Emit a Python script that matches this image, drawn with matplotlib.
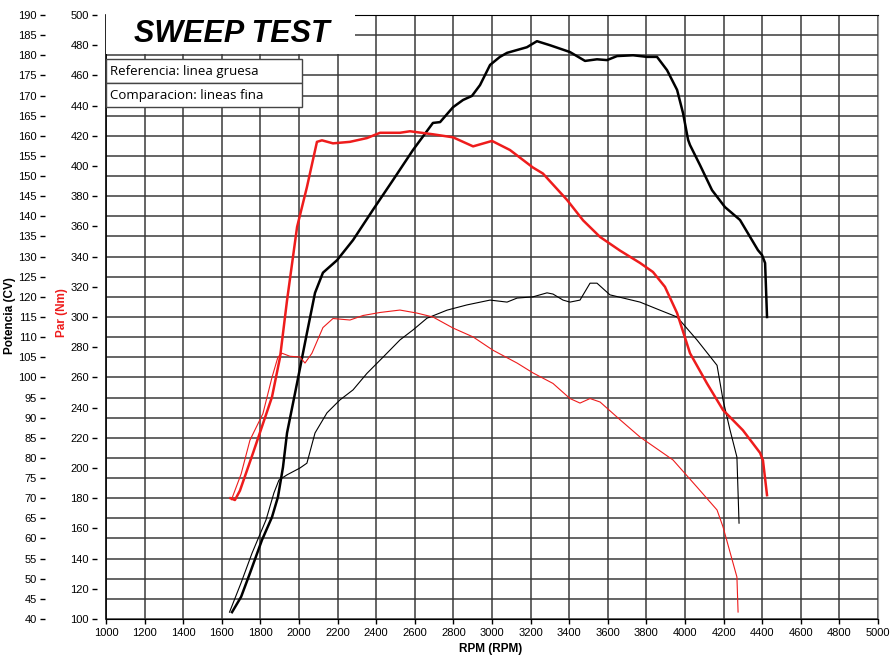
import matplotlib
matplotlib.use("Agg")
import matplotlib.pyplot as plt
from matplotlib.patches import Rectangle
from matplotlib.lines import Line2D

# ---------------- data ----------------
rpm_ticks = list(range(1000, 5001, 200))
power_ticks = list(range(40, 191, 5))
torque_ticks = list(range(100, 501, 20))

# Reference power (thick black), CV
ref_pow_rpm = [1653, 1700, 1746, 1808, 1860, 1891, 1917, 1938, 1990, 2041, 2083, 2124, 2197,
               2280, 2383, 2487, 2591, 2694, 2731, 2798, 2850, 2896, 2938, 2990, 3041, 3078,
               3181, 3233, 3300, 3404, 3482, 3544, 3596, 3648, 3731, 3803, 3855, 3907, 3959,
               3990, 4016, 4026, 4078, 4140, 4207, 4285, 4347, 4378, 4399, 4415, 4425]
ref_pow = [41.7, 45.5, 51.4, 59.6, 65.3, 70.3, 77.7, 86.2, 98.6, 111.0, 121.0, 126.0, 129.1,
           134.1, 141.6, 149.0, 156.5, 163.2, 163.4, 167.1, 168.9, 169.9, 172.6, 177.6, 179.6, 180.6,
           182.0, 183.5, 182.5, 180.8, 178.6, 179.0, 178.8, 179.8, 180.0, 179.6, 179.6, 176.3, 171.4,
           165.6, 159.0, 157.7, 152.7, 146.5, 142.3, 139.1, 134.1, 131.6, 130.4, 128.4, 115.0]

# Reference torque (thick red), Nm
ref_tq_rpm = [1645, 1668, 1694, 1762, 1860, 1902, 1938, 1990, 2041, 2093, 2119, 2176, 2264,
              2352, 2420, 2523, 2575, 2694, 2798, 2902, 3000, 3093, 3212, 3264, 3389, 3472,
              3560, 3663, 3767, 3834, 3896, 3959, 4026, 4114, 4197, 4300, 4389, 4404, 4425]
ref_tq = [180, 178.8, 185, 210, 247, 273.5, 311, 359.6, 386, 416, 417, 415, 416,
          418.5, 422, 422, 423, 421, 419, 413, 416.6, 410.6, 399, 395, 377.5, 364,
          353, 344, 335.8, 329.8, 320, 302.6, 276, 256, 238.4, 225, 210, 205, 182]

# Comparison torque (thin red), Nm
cmp_tq_rpm = [1650, 1700, 1746, 1813, 1860, 1891, 1912, 1953, 2005, 2031, 2067, 2124, 2176,
              2264, 2332, 2420, 2523, 2611, 2694, 2798, 2902, 3005, 3130, 3212, 3316, 3404,
              3456, 3508, 3560, 3663, 3767, 3938, 4062, 4166, 4197, 4249, 4269, 4275]
cmp_tq = [179, 196, 218.5, 236, 260, 273.5, 276, 274, 273.5, 269.5, 276, 293, 299,
          298, 301, 303, 304.6, 302.6, 300, 292.7, 286.8, 278, 269.5, 263, 256, 246,
          243, 246, 243.7, 232, 220.5, 205.3, 187.4, 172.2, 161, 137, 127.8, 104.6]

# Comparison power (thin black), CV
cmp_pow_rpm = [1640, 1700, 1757, 1829, 1870, 1896, 1938, 2005, 2041, 2083, 2145, 2212, 2280,
               2352, 2435, 2523, 2591, 2663, 2767, 2870, 2990, 3078, 3130, 3212, 3285, 3316,
               3368, 3404, 3456, 3508, 3544, 3611, 3767, 3870, 3959, 4062, 4166, 4197, 4233,
               4269, 4280]
cmp_pow = [41.7, 49, 56.4, 64.6, 71.3, 74.5, 75.8, 77.5, 78.7, 86.2, 91.2, 94.4, 96.9,
           101, 105, 109.3, 111.8, 114.7, 116.7, 118, 119.2, 118.7, 119.7, 120, 121, 120.7,
           119.2, 118.7, 119.2, 123.4, 123.4, 120.5, 118.7, 116.7, 115, 109.3, 103, 94.4, 87,
           80.2, 63.8]

RED = "#ee1c1c"

plt.rcParams['font.family'] = ['Liberation Sans', 'DejaVu Sans']

fig = plt.figure(figsize=(8.92, 6.62), dpi=100)
W, H = 892, 662
PX = 72 / 100  # points per pixel
ax = fig.add_axes([106 / W, 1 - 619 / H, (878 - 106) / W, (619 - 15) / H])
ax2 = ax.twinx()

# power axes (bottom layer)
ax.set_xlim(1000, 5000)
ax.set_ylim(40, 190)
ax.set_xticks(rpm_ticks)
ax.set_yticks(power_ticks)
ax.grid(True, color="#3a3a3a", lw=1.1)
ax.set_axisbelow(True)
ax.plot(ref_pow_rpm, ref_pow, color="black", lw=1.8, zorder=3)
ax.plot(cmp_pow_rpm, cmp_pow, color="black", lw=0.8, zorder=3)

# torque axes (top layer)
ax2.set_ylim(100, 500)
ax2.set_yticks(torque_ticks)
ax2.plot(ref_tq_rpm, ref_tq, color=RED, lw=1.8)
ax2.plot(cmp_tq_rpm, cmp_tq, color=RED, lw=0.8)

# tick placement
ax2.yaxis.tick_left()
ax2.spines['left'].set_position(('outward', 9 * PX))
ax2.spines['left'].set_visible(False)
ax2.spines['right'].set_visible(False)
ax2.spines['top'].set_visible(False)
ax2.spines['bottom'].set_visible(False)
ax2.tick_params(axis='y', length=5 * PX, width=1, pad=3 * PX, labelsize=8)

ax.spines['left'].set_position(('outward', 61 * PX))
ax.spines['left'].set_visible(False)
ax.spines['right'].set_color("#999999")
ax.spines['top'].set_color("black")
ax.spines['bottom'].set_color("black")
ax.tick_params(axis='y', length=5 * PX, width=1, pad=3 * PX, labelsize=8)
ax.tick_params(axis='x', length=5 * PX, width=1, pad=4 * PX, labelsize=8)
for t in ax.get_xticklabels():
    t.set_fontstretch('condensed')

# left frame line
fig.add_artist(Line2D([106 / W, 106 / W], [1 - 619 / H, 1 - 15 / H], color="black", lw=1.2))

# axis labels
fig.text(10 / W, 1 - 316 / H, "Potencia (CV)", rotation=90, ha='center', va='center',
         fontsize=8.5, fontweight='bold')
fig.text(62 / W, 1 - 313 / H, "Par (Nm)", rotation=90, ha='center', va='center',
         fontsize=8.5, fontweight='bold', color=RED)
fig.text(491 / W, 1 - 649 / H, "RPM (RPM)", ha='center', va='center',
         fontsize=8.5, fontweight='bold')

# title box
fig.add_artist(Rectangle((106 / W, 1 - 54 / H), 249 / W, 40 / H, transform=fig.transFigure,
                         facecolor='white', edgecolor='none', zorder=5))
fig.text(232 / W, 1 - 34 / H, "SWEEP TEST", ha='center', va='center', fontsize=22,
         fontweight='bold', fontstyle='italic', zorder=6)

# legend boxes
for i, txt in enumerate(["Referencia: linea gruesa", "Comparacion: lineas fina"]):
    top = 59 + 24 * i
    fig.add_artist(Rectangle((106 / W, 1 - (top + 24) / H), 196 / W, 24 / H,
                             transform=fig.transFigure, facecolor='white',
                             edgecolor='#444444', lw=1.0, zorder=5))
    fig.text(110 / W, 1 - (top + 12) / H, txt, ha='left', va='center', fontsize=9.5,
             family=['Open Sans', 'DejaVu Sans'], zorder=6)

fig.savefig("out.png", dpi=100)
